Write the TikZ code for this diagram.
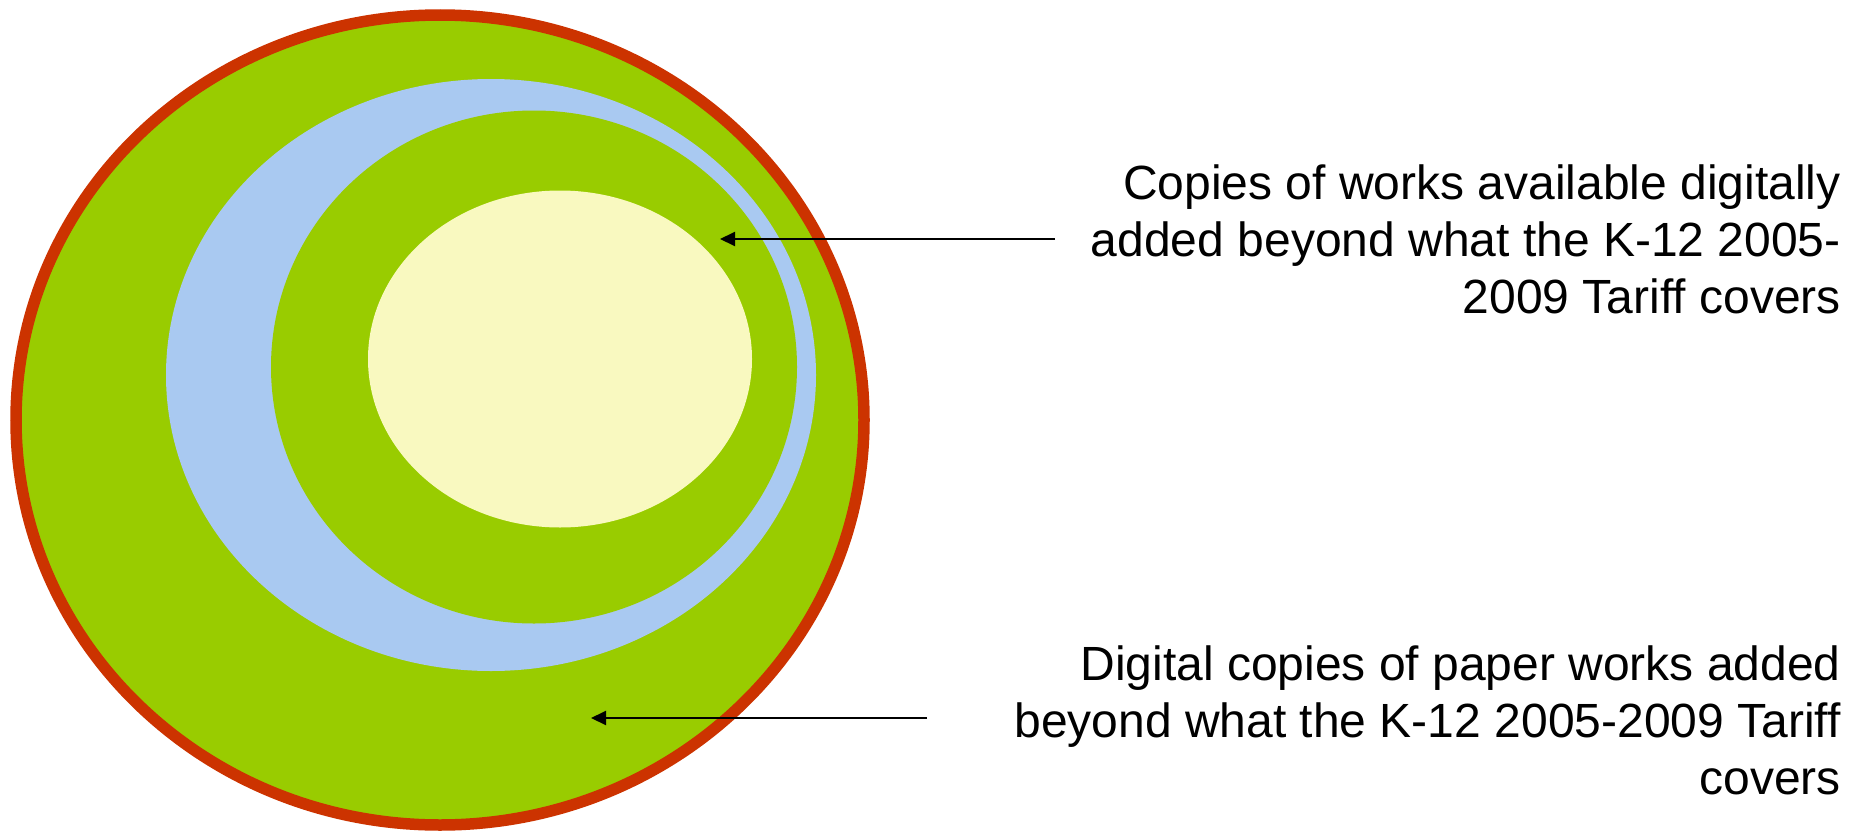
\documentclass[tikz,border=0pt]{standalone}
\usepackage{fontspec}
\setmainfont{Liberation Sans}
\usetikzlibrary{shapes.geometric,arrows.meta}
\definecolor{ringgreen}{RGB}{153,204,0}
\definecolor{ringred}{RGB}{204,51,0}
\definecolor{ringblue}{RGB}{169,201,241}
\definecolor{ringyellow}{RGB}{249,249,192}
\tikzset{
  blob/.style={ellipse, inner sep=0pt, outer sep=0pt, draw=none},
  label text/.style={font=\fontsize{48}{57}\selectfont, align=right, inner sep=0pt, anchor=north east},
  pointer/.style={line width=2pt, -{Triangle[length=15pt,width=14pt]}}
}
\begin{document}
\begin{tikzpicture}[x=1pt,y=-1pt]
\useasboundingbox (0,0) rectangle (1861,835);
\node[blob, fill=ringgreen, draw=ringred, line width=11.5pt, minimum width=848pt, minimum height=810pt] (outer) at (440,420) {};
\node[blob, fill=ringblue, minimum width=650pt, minimum height=592pt] (blue) at (491,375) {};
\node[blob, fill=ringgreen, minimum width=526pt, minimum height=513pt] (inner) at (534,367) {};
\node[blob, fill=ringyellow, minimum width=384pt, minimum height=337pt] (core) at (560,359) {};
\node[label text] (t1) at (1841,165) {Copies of works available digitally\\added beyond what the K-12 2005-\\2009 Tariff covers};
\node[label text] (t2) at (1841,646) {Digital copies of paper works added\\beyond what the K-12 2005-2009 Tariff\\covers};
\coordinate (s1) at (1055,239);
\coordinate (e1) at (720,239);
\coordinate (s2) at (927,718);
\coordinate (e2) at (591,718);
\draw[pointer] (s1) -- (e1);
\draw[pointer] (s2) -- (e2);
\end{tikzpicture}
\end{document}
